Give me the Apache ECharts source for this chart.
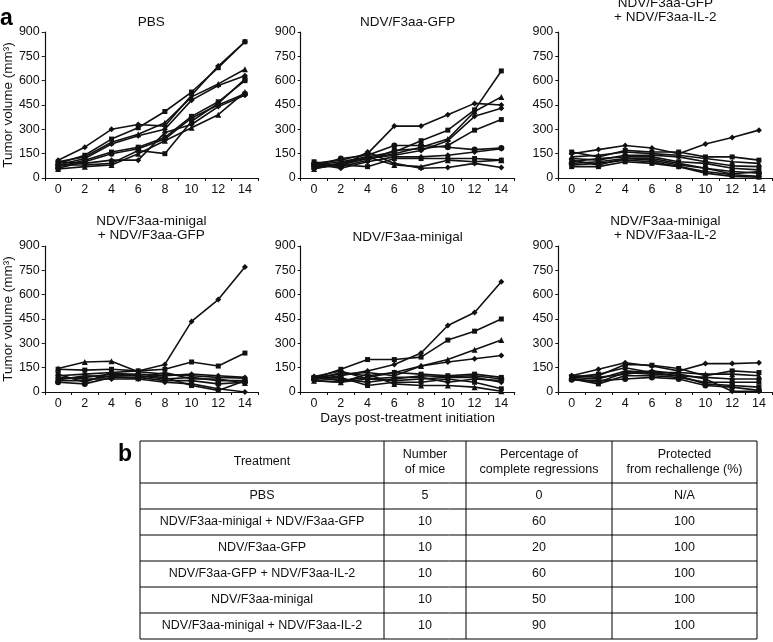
<!DOCTYPE html>
<html>
<head>
<meta charset="utf-8">
<script src="https://cdn.jsdelivr.net/npm/echarts@6/dist/echarts.min.js"></script>
<style>
html,body{margin:0;padding:0;background:#fff;}
#chart{width:773px;height:642px;}
</style>
</head>
<body>
<div id="chart"></div>
<script>
// ---------- DATA ----------
const days = ['0', '2', '4', '6', '8', '10', '12', '14'];
const yTicks = [0, 150, 300, 450, 600, 750, 900];
const panelTitles = [
  'PBS',
  'NDV/F3aa-GFP',
  'NDV/F3aa-GFP\n+ NDV/F3aa-IL-2',
  'NDV/F3aa-minigal\n+ NDV/F3aa-GFP',
  'NDV/F3aa-minigal',
  'NDV/F3aa-minigal\n+ NDV/F3aa-IL-2'
];
const pbs = [
  [110, 190, 300, 330, 320, 510, 690, 840],
  [90, 140, 240, 310, 410, 530, 680, 840],
  [100, 130, 220, 270, 340, 500, 580, 670],
  [80, 120, 210, 260, 300, 480, 570, 630],
  [70, 110, 160, 190, 250, 380, 470, 600],
  [60, 100, 150, 180, 240, 370, 450, 520],
  [100, 90, 110, 110, 280, 330, 440, 510],
  [80, 80, 90, 170, 150, 350, 460, 610],
  [55, 70, 80, 150, 230, 310, 390, 530]
];
const gfp = [
  [90, 110, 150, 320, 320, 390, 460, 450],
  [80, 100, 130, 160, 230, 295, 420, 660],
  [70, 90, 120, 150, 190, 240, 410, 500],
  [60, 80, 120, 140, 170, 230, 380, 430],
  [100, 70, 110, 170, 180, 200, 295, 360],
  [75, 120, 140, 200, 200, 190, 175, 185],
  [85, 60, 100, 130, 130, 140, 160, 180],
  [65, 80, 70, 120, 120, 120, 120, 110],
  [55, 90, 130, 80, 70, 110, 100, 110],
  [95, 70, 160, 90, 60, 65, 90, 65]
];
const gfpIl2 = [
  [150, 175, 200, 185, 150, 210, 250, 295],
  [160, 130, 170, 160, 160, 130, 130, 110],
  [130, 140, 160, 150, 140, 120, 100, 90],
  [120, 110, 140, 140, 130, 100, 75, 70],
  [100, 120, 130, 130, 100, 90, 60, 50],
  [90, 100, 120, 110, 80, 60, 40, 30],
  [80, 90, 110, 100, 70, 40, 20, 10],
  [70, 70, 100, 90, 70, 30, 10, 5],
  [110, 80, 120, 120, 90, 60, 25, 40]
];
const minigalGfp = [
  [100, 110, 120, 130, 170, 435, 570, 770],
  [140, 135, 140, 130, 140, 185, 160, 240],
  [145, 185, 190, 125, 110, 100, 90, 85],
  [80, 90, 110, 110, 100, 110, 100, 90],
  [70, 70, 100, 100, 80, 90, 70, 70],
  [60, 50, 90, 90, 70, 70, 50, 60],
  [90, 80, 80, 80, 60, 50, 20, 0],
  [110, 60, 120, 100, 90, 40, 10, 70],
  [75, 100, 95, 85, 120, 80, 80, 55]
];
const minigal = [
  [80, 100, 130, 170, 240, 410, 490, 680],
  [85, 140, 200, 200, 215, 320, 375, 450],
  [90, 110, 120, 100, 160, 200, 260, 320],
  [75, 120, 100, 120, 160, 185, 205, 225],
  [90, 70, 90, 120, 110, 100, 110, 90],
  [80, 80, 60, 80, 100, 95, 100, 80],
  [70, 60, 80, 70, 80, 90, 90, 60],
  [85, 90, 40, 60, 60, 80, 60, 20],
  [70, 60, 110, 50, 40, 40, 30, 5],
  [95, 130, 80, 90, 90, 60, 80, 70]
];
const minigalIl2 = [
  [100, 140, 180, 160, 130, 175, 175, 180],
  [95, 100, 170, 165, 145, 100, 130, 120],
  [90, 80, 130, 120, 120, 110, 110, 100],
  [85, 60, 120, 110, 100, 90, 80, 80],
  [80, 50, 100, 100, 90, 60, 60, 60],
  [75, 70, 80, 90, 80, 40, 30, 10],
  [100, 90, 110, 130, 110, 80, 5, 5],
  [90, 110, 150, 120, 100, 50, 40, 30]
];
const panels = [pbs, gfp, gfpIl2, minigalGfp, minigal, minigalIl2];

const tableHeader = ['Treatment', 'Number\nof mice', 'Percentage of\ncomplete regressions', 'Protected\nfrom rechallenge (%)'];
const treatments = ['PBS', 'NDV/F3aa-minigal + NDV/F3aa-GFP', 'NDV/F3aa-GFP', 'NDV/F3aa-GFP + NDV/F3aa-IL-2', 'NDV/F3aa-minigal', 'NDV/F3aa-minigal + NDV/F3aa-IL-2'];
const numberOfMice = ['5', '10', '10', '10', '10', '10'];
const completeRegressions = ['0', '60', '20', '60', '50', '90'];
const protectedPct = ['N/A', '100', '100', '100', '100', '100'];

// ---------- LAYOUT ----------
const FONT = '"Liberation Sans", Arial, Helvetica, sans-serif';
const INK = '#111';
const gridLefts = [44.3, 300.7, 558.3];
const gridTops = [32, 246];
const gridW = 214, gridH = 146;
const symbols = ['diamond', 'rect', 'triangle', 'diamond', 'rect', 'circle', 'diamond', 'rect', 'triangle', 'diamond'];

const grids = [], xAxes = [], yAxes = [], series = [], titles = [];
panels.forEach((data, p) => {
  const col = p % 3, row = Math.floor(p / 3);
  grids.push({ left: gridLefts[col], top: gridTops[row], width: gridW, height: gridH, containLabel: false });
  xAxes.push({
    type: 'category', gridIndex: p, data: days, boundaryGap: true,
    axisLine: { lineStyle: { color: INK, width: 1.2 } },
    axisTick: { show: true, length: 3, lineStyle: { color: INK } },
    axisLabel: { color: INK, fontSize: 12.5, fontFamily: FONT, margin: 5, interval: 0 },
    name: p === 4 ? 'Days post-treatment initiation' : '',
    nameLocation: 'middle', nameGap: 18,
    nameTextStyle: { color: INK, fontSize: 13.5, fontFamily: FONT }
  });
  yAxes.push({
    type: 'value', gridIndex: p, min: 0, max: 900, interval: 150,
    axisLine: { show: true, lineStyle: { color: INK, width: 1.2 } },
    axisTick: { show: true, length: 3, lineStyle: { color: INK } },
    axisLabel: { color: INK, fontSize: 12.5, fontFamily: FONT, margin: 5 },
    splitLine: { show: false },
    name: col === 0 ? 'Tumor volume (mm³)' : '',
    nameLocation: 'middle', nameGap: 29,
    nameTextStyle: { color: INK, fontSize: 13.5, fontFamily: FONT }
  });
  data.forEach((vals, i) => {
    const sym = symbols[i % symbols.length];
    series.push({
      type: 'line', xAxisIndex: p, yAxisIndex: p, data: vals,
      symbol: sym, symbolSize: sym === 'rect' ? 5 : 6,
      showAllSymbol: true,
      lineStyle: { color: INK, width: 1.6 },
      itemStyle: { color: INK },
      animation: false, silent: true
    });
  });
  const centerX = gridLefts[col] + gridW / 2;
  const lines = panelTitles[p].split('\n').length;
  let top;
  if (row === 0) top = lines === 1 ? 15 : -4;
  else top = lines === 1 ? 230 : 214;
  titles.push({
    text: panelTitles[p], left: centerX, top: top, textAlign: 'center',
    textStyle: { color: INK, fontSize: 13.5, fontWeight: 'normal', fontFamily: FONT, lineHeight: 14 },
    padding: 0
  });
});

// ---------- TABLE (graphic) ----------
const colX = [140, 384, 466, 612, 757];
const rowY = [441, 483, 509, 535, 561, 587, 613, 639];
const graphics = [];
graphics.push({ type: 'text', left: 0, top: 7, style: { text: 'a', font: 'bold 23px ' + FONT, fill: '#000' } });
graphics.push({ type: 'text', left: 118, top: 443, style: { text: 'b', font: 'bold 23px ' + FONT, fill: '#000' } });
rowY.forEach(y => {
  graphics.push({ type: 'line', shape: { x1: colX[0], y1: y, x2: colX[4], y2: y }, style: { stroke: '#000', lineWidth: 1 } });
});
colX.forEach(x => {
  graphics.push({ type: 'line', shape: { x1: x, y1: rowY[0], x2: x, y2: rowY[rowY.length - 1] }, style: { stroke: '#000', lineWidth: 1 } });
});
const cell = (txt, c, r) => ({
  type: 'text',
  style: {
    text: txt, x: (colX[c] + colX[c + 1]) / 2, y: (rowY[r] + rowY[r + 1]) / 2,
    textAlign: 'center', textVerticalAlign: 'middle',
    font: '12.5px ' + FONT, fill: INK, lineHeight: 15
  }
});
tableHeader.forEach((h, c) => graphics.push(cell(h, c, 0)));
treatments.forEach((t, r) => {
  graphics.push(cell(t, 0, r + 1));
  graphics.push(cell(numberOfMice[r], 1, r + 1));
  graphics.push(cell(completeRegressions[r], 2, r + 1));
  graphics.push(cell(protectedPct[r], 3, r + 1));
});

const chart = echarts.init(document.getElementById('chart'), null, { renderer: 'canvas' });
chart.setOption({
  animation: false,
  backgroundColor: '#fff',
  textStyle: { fontFamily: FONT },
  title: titles,
  grid: grids,
  xAxis: xAxes,
  yAxis: yAxes,
  series: series,
  graphic: graphics
});
</script>
</body>
</html>
